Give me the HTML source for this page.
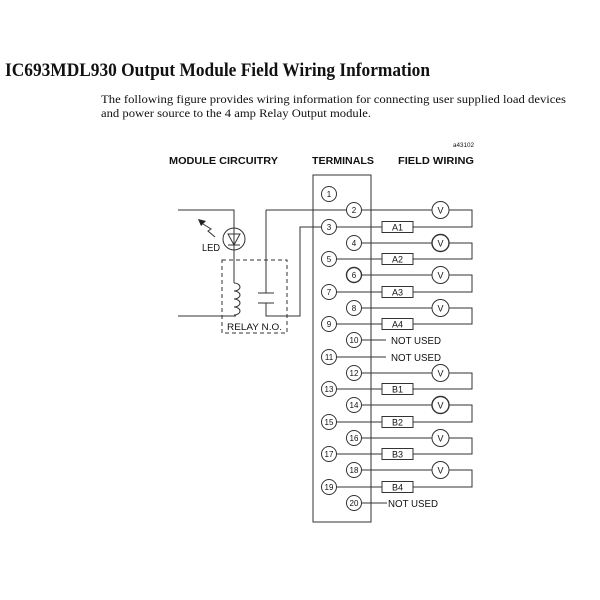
<!DOCTYPE html>
<html><head><meta charset="utf-8"><style>
html,body{margin:0;padding:0;background:#fff;}
svg{display:block;}
</style></head><body>
<svg width="600" height="600" viewBox="0 0 600 600" xmlns="http://www.w3.org/2000/svg">
<rect width="600" height="600" fill="#fff"/>
<g fill="#111">
<text x="5" y="76" font-family="Liberation Serif, serif" font-weight="bold" font-size="19" textLength="425" lengthAdjust="spacingAndGlyphs">IC693MDL930 Output Module Field Wiring Information</text>
<text x="101" y="103" font-family="Liberation Serif, serif" font-size="12" textLength="465" lengthAdjust="spacingAndGlyphs">The following figure provides wiring information for connecting user  supplied load devices</text>
<text x="101" y="117" font-family="Liberation Serif, serif" font-size="12" textLength="270" lengthAdjust="spacingAndGlyphs">and power source to the 4 amp Relay Output module.</text>
<text x="453" y="147" font-family="Liberation Sans, sans-serif" font-size="6" textLength="21" lengthAdjust="spacingAndGlyphs">a43102</text>
<text x="169" y="164" font-family="Liberation Sans, sans-serif" font-weight="bold" font-size="10" textLength="109" lengthAdjust="spacingAndGlyphs">MODULE CIRCUITRY</text>
<text x="312" y="164" font-family="Liberation Sans, sans-serif" font-weight="bold" font-size="10" textLength="62" lengthAdjust="spacingAndGlyphs">TERMINALS</text>
<text x="398" y="164" font-family="Liberation Sans, sans-serif" font-weight="bold" font-size="10" textLength="76" lengthAdjust="spacingAndGlyphs">FIELD WIRING</text>
</g>

<g stroke="#333" stroke-width="1" fill="none">
<!-- terminal box -->
<rect x="313" y="175" width="58" height="347"/>
<!-- left circuit -->
<polyline points="178,210 234,210 234,228"/>
<circle cx="234" cy="239" r="11"/>
<line x1="234" y1="228" x2="234" y2="283"/>
<polygon points="228,234 240,234 234,245"/>
<line x1="228" y1="245" x2="240" y2="245"/>
<path d="M234 283 a6 4 0 0 1 0 8 a6 4 0 0 1 0 8 a6 4 0 0 1 0 8 a6 4 0 0 1 0 8"/>
<line x1="178" y1="316" x2="236" y2="316"/>
<polyline points="266,210 266,293"/>
<line x1="258" y1="293" x2="274" y2="293"/>
<line x1="258" y1="303" x2="274" y2="303"/>
<polyline points="266,303 266,316 300,316 300,227 321.5,227"/>
<line x1="266" y1="210" x2="346.5" y2="210"/>
<rect x="222" y="260" width="65" height="73" stroke-dasharray="4 3"/>
<polyline points="215,237 208,231 211,229 203,224"/>
</g>
<polygon points="198,219 206,221 201,226" fill="#222"/>
<g fill="#111" font-family="Liberation Sans, sans-serif">
<text x="202" y="251" font-size="10" textLength="18" lengthAdjust="spacingAndGlyphs">LED</text>
<text x="227" y="330" font-size="9.5" textLength="55" lengthAdjust="spacingAndGlyphs">RELAY  N.O.</text>
</g>

<!-- terminals -->
<g stroke="#333" stroke-width="1" fill="#fff">
<circle cx="329" cy="194" r="7.5"/>
<circle cx="354" cy="210" r="7.5"/>
<circle cx="329" cy="227" r="7.5"/>
<circle cx="354" cy="243" r="7.5"/>
<circle cx="329" cy="259" r="7.5"/>
<circle cx="354" cy="275" r="7.5" stroke-width="1.4"/>
<circle cx="329" cy="292" r="7.5"/>
<circle cx="354" cy="308" r="7.5"/>
<circle cx="329" cy="324" r="7.5"/>
<circle cx="354" cy="340" r="7.5"/>
<circle cx="329" cy="357" r="7.5"/>
<circle cx="354" cy="373" r="7.5"/>
<circle cx="329" cy="389" r="7.5"/>
<circle cx="354" cy="405" r="7.5"/>
<circle cx="329" cy="422" r="7.5"/>
<circle cx="354" cy="438" r="7.5"/>
<circle cx="329" cy="454" r="7.5"/>
<circle cx="354" cy="470" r="7.5"/>
<circle cx="329" cy="487" r="7.5"/>
<circle cx="354" cy="503" r="7.5"/>
</g>
<g fill="#111" font-family="Liberation Sans, sans-serif" font-size="8" text-anchor="middle">
<text x="329" y="197">1</text>
<text x="354" y="213">2</text>
<text x="329" y="230">3</text>
<text x="354" y="246">4</text>
<text x="329" y="262">5</text>
<text x="354" y="278">6</text>
<text x="329" y="295">7</text>
<text x="354" y="311">8</text>
<text x="329" y="327">9</text>
<text x="354" y="343">10</text>
<text x="329" y="360">11</text>
<text x="354" y="376">12</text>
<text x="329" y="392">13</text>
<text x="354" y="408">14</text>
<text x="329" y="425">15</text>
<text x="354" y="441">16</text>
<text x="329" y="457">17</text>
<text x="354" y="473">18</text>
<text x="329" y="490">19</text>
<text x="354" y="506">20</text>
</g>

<!-- field wiring -->
<g stroke="#333" stroke-width="1" fill="none">
<!-- pair template lines -->
<path d="M361.5 210H432M449 210H472V227H413M336.5 227H382"/>
<path d="M361.5 243H432M449 243H472V259H413M336.5 259H382"/>
<path d="M361.5 275H432M449 275H472V292H413M336.5 292H382"/>
<path d="M361.5 308H432M449 308H472V324H413M336.5 324H382"/>
<path d="M361.5 373H432M449 373H472V389H413M336.5 389H382"/>
<path d="M361.5 405H432M449 405H472V422H413M336.5 422H382"/>
<path d="M361.5 438H432M449 438H472V454H413M336.5 454H382"/>
<path d="M361.5 470H432M449 470H472V487H413M336.5 487H382"/>
<path d="M361.5 340H386M336.5 357H386M361.5 503H387"/>
<rect x="382" y="221.5" width="31" height="11"/>
<rect x="382" y="253.5" width="31" height="11"/>
<rect x="382" y="286.5" width="31" height="11"/>
<rect x="382" y="318.5" width="31" height="11"/>
<rect x="382" y="383.5" width="31" height="11"/>
<rect x="382" y="416.5" width="31" height="11"/>
<rect x="382" y="448.5" width="31" height="11"/>
<rect x="382" y="481.5" width="31" height="11"/>
<circle cx="440.5" cy="210" r="8.5"/>
<circle cx="440.5" cy="243" r="8.5" stroke-width="1.4"/>
<circle cx="440.5" cy="275" r="8.5"/>
<circle cx="440.5" cy="308" r="8.5"/>
<circle cx="440.5" cy="373" r="8.5"/>
<circle cx="440.5" cy="405" r="8.5" stroke-width="1.4"/>
<circle cx="440.5" cy="438" r="8.5"/>
<circle cx="440.5" cy="470" r="8.5"/>
</g>
<g fill="#111" font-family="Liberation Sans, sans-serif" font-size="9" text-anchor="middle">
<text x="440.5" y="213.5">V</text>
<text x="440.5" y="246.5">V</text>
<text x="440.5" y="278.5">V</text>
<text x="440.5" y="311.5">V</text>
<text x="440.5" y="376.5">V</text>
<text x="440.5" y="408.5">V</text>
<text x="440.5" y="441.5">V</text>
<text x="440.5" y="473.5">V</text>
<text x="397.5" y="230.5">A1</text>
<text x="397.5" y="262.5">A2</text>
<text x="397.5" y="295.5">A3</text>
<text x="397.5" y="327.5">A4</text>
<text x="397.5" y="392.5">B1</text>
<text x="397.5" y="425.5">B2</text>
<text x="397.5" y="457.5">B3</text>
<text x="397.5" y="490.5">B4</text>
</g>
<g fill="#111" font-family="Liberation Sans, sans-serif" font-size="10">
<text x="391" y="344" textLength="50" lengthAdjust="spacingAndGlyphs">NOT USED</text>
<text x="391" y="361" textLength="50" lengthAdjust="spacingAndGlyphs">NOT USED</text>
<text x="388" y="507" textLength="50" lengthAdjust="spacingAndGlyphs">NOT USED</text>
</g>
</svg>
</body></html>
